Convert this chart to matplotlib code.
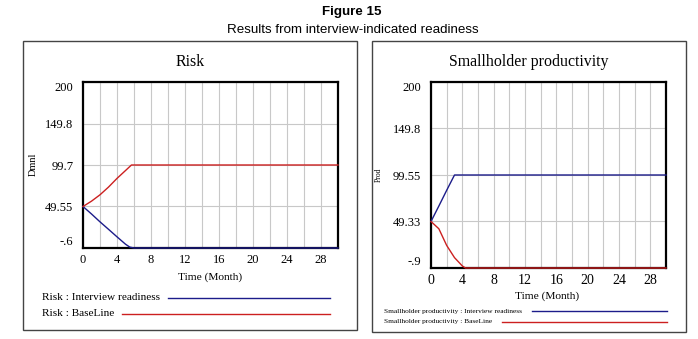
import matplotlib.pyplot as plt
from matplotlib.patches import Rectangle
from matplotlib.lines import Line2D

W, H = 698, 339

# Risk panel data (month, value)
risk_t_interview = [0, 1, 2, 3, 4, 5, 5.5, 6, 30]
risk_interview = [49.55, 40.5, 31, 22, 12.9, 4, 0.5, -0.6, -0.6]
risk_t_base = [0, 1, 2, 3, 4, 5, 5.7, 30]
risk_base = [49.55, 56, 63.7, 73, 83.5, 93, 99.7, 99.7]
risk_yticks = [-0.6, 49.55, 99.7, 149.8, 200]
risk_ylabels = ["-.6", "49.55", "99.7", "149.8", "200"]

# Smallholder productivity panel data
prod_t_interview = [0, 1, 2, 3, 30]
prod_interview = [49.33, 66, 83, 99.55, 99.55]
prod_t_base = [0, 1, 2, 3, 4, 4.4, 30]
prod_base = [49.33, 41.5, 23.5, 10.3, 1.3, -0.9, -0.9]
prod_yticks = [-0.9, 49.33, 99.55, 149.8, 200]
prod_ylabels = ["-.9", "49.33", "99.55", "149.8", "200"]

xticks = list(range(0, 30, 4))

BLUE = "#1c1c8a"
RED = "#cc2020"
GRIDC = "#c8c8c8"
SERIF = "Liberation Serif"
SANS = "Liberation Sans"


def fx(x):
    return x / W


def fy(y):
    return 1 - y / H


def rect(l, t, r, b):
    return [fx(l), fy(b), fx(r) - fx(l), fy(t) - fy(b)]


fig = plt.figure(figsize=(W / 100, H / 100), dpi=100)
fig.patch.set_facecolor("white")

fig.text(fx(352), fy(12), "Figure 15", ha="center", va="center",
         fontsize=9.6, fontweight="bold", family=SANS)
fig.text(fx(353), fy(30), "Results from interview-indicated readiness",
         ha="center", va="center", fontsize=9.6, family=SANS)

# panel frames
for l, t, r, b in [(23, 41, 357, 330), (372, 41, 686, 332)]:
    fig.patches.append(Rectangle((fx(l), fy(b)), fx(r) - fx(l), fy(t) - fy(b),
                                 transform=fig.transFigure, fill=False,
                                 edgecolor="#444444", lw=1.0))


def panel(box, title, tx, yl, ylx, yly, ylsize, t1, v1, t2, v2, yticks, ylabels,
          ymin, xtsize, xlab_y, xlab_x):
    ax = fig.add_axes(rect(*box))
    ax.plot(t1, v1, color=BLUE, lw=1.0, zorder=3, clip_on=False)
    ax.plot(t2, v2, color=RED, lw=1.0, zorder=3, clip_on=False)
    ax.set_xlim(0, 30)
    ax.set_ylim(ymin, 200)
    ax.set_xticks(xticks)
    ax.set_xticks(range(0, 31, 2), minor=True)
    ax.set_yticks(yticks)
    ax.set_yticklabels(ylabels)
    ax.grid(True, which="both", color=GRIDC, lw=0.8)
    ax.tick_params(which="both", length=0)
    ax.tick_params(axis="x", labelsize=xtsize, pad=4)
    ax.tick_params(axis="y", labelsize=9, pad=7)
    for lab in ax.get_xticklabels() + ax.get_yticklabels():
        lab.set_family(SERIF)
    ylabs = ax.get_yticklabels()
    ylabs[0].set_va("bottom")
    ylabs[-1].set_va("top")
    for s in ax.spines.values():
        s.set_color("black")
        s.set_linewidth(1.6)
        s.set_zorder(2)
    fig.text(fx(tx), fy(62), title, ha="center", va="center",
             fontsize=11.4, family=SERIF)
    fig.text(fx(xlab_x), fy(xlab_y), "Time (Month)", ha="center", va="center",
             fontsize=8.2, family=SERIF)
    fig.text(fx(ylx), fy(yly), yl, ha="center", va="center", rotation=90,
             fontsize=ylsize, family=SERIF)
    return ax


panel((83, 82, 338, 248), "Risk", 190, "Dmnl", 33, 164, 7.5,
      risk_t_interview, risk_interview, risk_t_base, risk_base,
      risk_yticks, risk_ylabels, -0.6, 9, 277, 210)
panel((431, 82, 666, 268), "Smallholder productivity", 529, "Prod", 379, 175, 5.5,
      prod_t_interview, prod_interview, prod_t_base, prod_base,
      prod_yticks, prod_ylabels, -0.9, 10, 296, 547)


def legend_row(x, y, text, size, x0, x1, color):
    fig.text(fx(x), fy(y), text, ha="left", va="center", fontsize=size, family=SERIF)
    fig.add_artist(Line2D([fx(x0), fx(x1)], [fy(y), fy(y)], color=color, lw=1.0,
                          transform=fig.transFigure))


legend_row(42, 298, "Risk : Interview readiness", 8.1, 168, 330, BLUE)
legend_row(42, 314, "Risk : BaseLine", 8.1, 122, 330, RED)
legend_row(384, 311, "Smallholder productivity : Interview readiness", 5.3, 532, 667, BLUE)
legend_row(384, 322, "Smallholder productivity : BaseLine", 5.3, 502, 667, RED)

fig.savefig("out.png", dpi=100, facecolor="white")
